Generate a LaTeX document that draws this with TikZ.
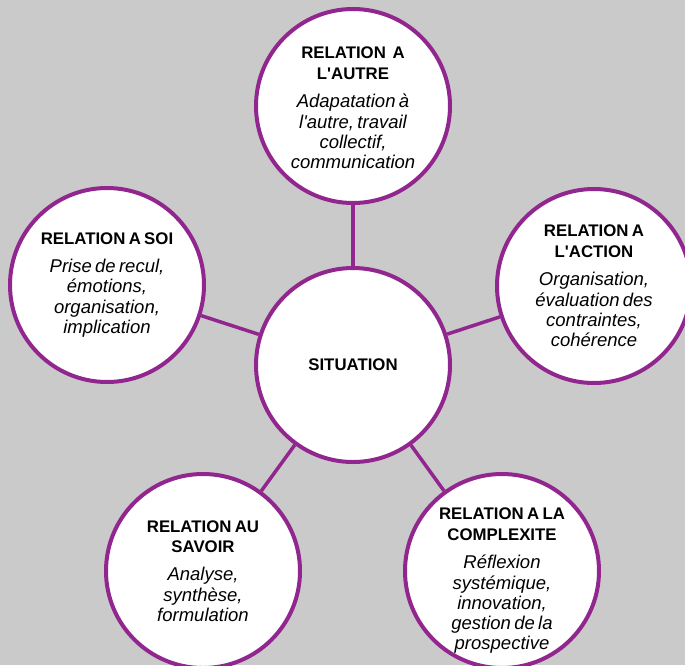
\documentclass[tikz,border=0pt]{standalone}
\usepackage{fontspec}
\setmainfont{Liberation Sans}[Ligatures=TeXOff]
\usepackage{tikz}
\usetikzlibrary{positioning}
\definecolor{violet}{RGB}{146,38,143}
\definecolor{fond}{RGB}{202,202,202}
\tikzstyle{bulle}=[draw=violet,fill=white,circle,line width=4pt,minimum size=194pt,inner sep=0pt]
\tikzstyle{texte}=[inner sep=0pt,text width=170pt,align=center]
\tikzstyle{lien}=[draw=violet,line width=3.5pt]
\newcommand{\titre}[1]{{\fontsize{16.8}{20.5}\selectfont\bfseries #1\par}\vspace{8pt}}
\newcommand{\desc}[1]{{\fontsize{18.5}{20.3}\selectfont\itshape #1\par}}

\begin{document}
\begin{tikzpicture}[x=1pt,y=-1pt]
  \fill[fond] (0,0) rectangle (685,665);
  \useasboundingbox (0,0) rectangle (685,665);
  \clip (0,0) rectangle (685,665);
  % les bulles
  \node[bulle] (situation) at (353,365) {};
  \node[bulle] (autre) at (353,106) {};
  \node[bulle] (action) at (594,286) {};
  \node[bulle] (soi) at (107,285) {};
  \node[bulle] (savoir) at (203,571) {};
  \node[bulle] (complexite) at (502,571) {};
  % les textes
  \node[texte] (t-situation) at (situation) {{\fontsize{16.8}{20}\selectfont\bfseries SITUATION}};
  \node[texte] (t-autre) at ([yshift=-2pt]autre) {\titre{RELATION\ \ A\\L'AUTRE}\desc{Adapatation à\\l'autre, travail\\collectif,\\communication}};
  \node[texte] (t-action) at (action) {\titre{RELATION A\\L'ACTION}\desc{Organisation,\\évaluation des\\contraintes,\\cohérence}};
  \node[texte] (t-soi) at (soi) {\titre{RELATION A SOI}\desc{Prise de recul,\\émotions,\\organisation,\\implication}};
  \node[texte] (t-savoir) at (savoir) {\titre{RELATION AU\\SAVOIR}\desc{Analyse,\\synthèse,\\formulation}};
  \node[texte] (t-complexite) at ([yshift=-10pt]complexite) {\titre{RELATION A LA\\COMPLEXITE}\desc{Réflexion\\systémique,\\innovation,\\gestion de la\\prospective}};
  % les liens
  \draw[lien] (situation) -- (autre);
  \draw[lien] (situation) -- (action);
  \draw[lien] (situation) -- (soi);
  \draw[lien] (situation) -- (savoir);
  \draw[lien] (situation) -- (complexite);
\end{tikzpicture}
\end{document}
